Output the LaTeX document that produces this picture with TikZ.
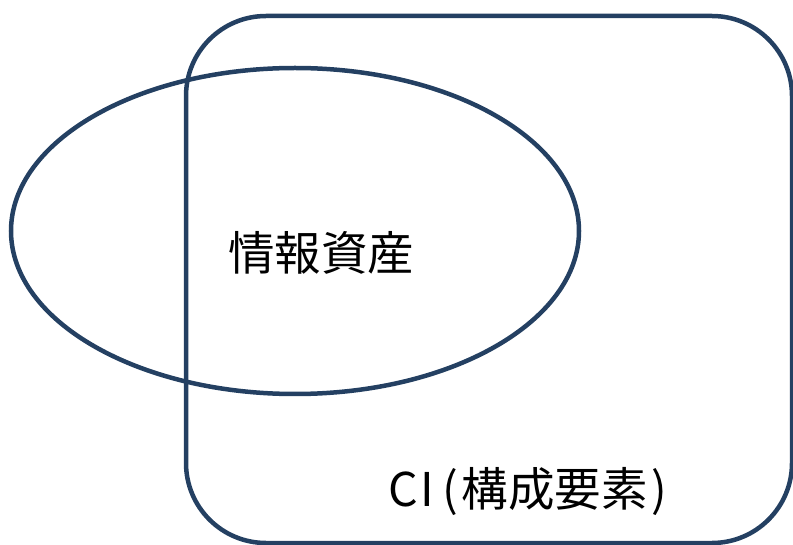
\documentclass[tikz,border=0pt]{standalone}
\usepackage{fontspec}
\newfontfamily\cjk{Noto Sans CJK JP}
\definecolor{edge}{RGB}{36,64,98}
\tikzset{
  shapeline/.style={draw=edge, line width=4.5pt},
  label/.style={font=\cjk\fontsize{46.5}{50}\selectfont, text=black, inner sep=0pt}
}
\begin{document}
\begin{tikzpicture}[x=1pt,y=-1pt]
\useasboundingbox (0,0) rectangle (793,545);
\clip (0,0) rectangle (793,545);
\draw[shapeline, rounded corners=80pt] (186,16) rectangle (792,543);
\draw[shapeline] (295,231) ellipse [x radius=284, y radius=163];
\node[label] (info) at (321,253) {情報資産};
\node[label, anchor=west] (ci) at (392,492) {\makebox[0.5em]{C}\makebox[0.5em]{I}\makebox[0.5em]{(}構成要素\makebox[0.5em]{)}};
\end{tikzpicture}
\end{document}
